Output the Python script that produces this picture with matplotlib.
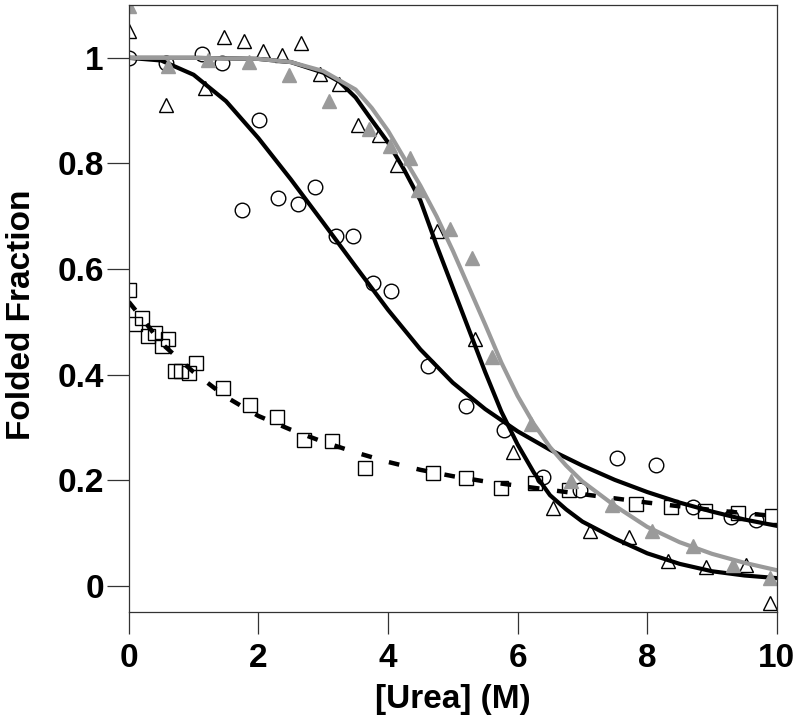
import matplotlib
matplotlib.use("Agg")
import matplotlib.pyplot as plt

plt.rcParams['font.family'] = ['Liberation Sans', 'DejaVu Sans']
plt.rcParams['font.weight'] = 'bold'

# open circles
circ_x = [0, 0.57, 1.13, 1.44, 1.74, 2.01, 2.30, 2.61, 2.875, 3.2, 3.46, 3.77, 4.05,
          4.62, 5.21, 5.79, 6.39, 6.96, 7.54, 8.13, 8.70, 9.29, 9.68]
circ_y = [1.0, 0.99, 1.008, 0.99, 0.712, 0.883, 0.735, 0.723, 0.755, 0.663, 0.663, 0.573, 0.558,
          0.416, 0.340, 0.296, 0.207, 0.182, 0.243, 0.230, 0.149, 0.131, 0.125]

# open triangles
tri_x = [0, 0.58, 1.17, 1.47, 1.78, 2.07, 2.37, 2.65, 2.95, 3.24, 3.54, 3.86, 4.14,
         4.76, 5.34, 5.93, 6.54, 7.12, 7.72, 8.32, 8.91, 9.52, 9.89]
tri_y = [1.05, 0.911, 0.942, 1.039, 1.031, 1.013, 1.006, 1.028, 0.97, 0.951, 0.873, 0.854, 0.798,
         0.672, 0.467, 0.253, 0.147, 0.105, 0.092, 0.048, 0.037, 0.040, -0.033]

# grey filled triangles
gtri_x = [0, 0.61, 1.22, 1.85, 2.47, 3.09, 3.71, 4.03, 4.34, 4.46, 4.95, 5.29, 5.60,
          6.2, 6.82, 7.45, 8.08, 8.70, 9.32, 9.90]
gtri_y = [1.098, 0.985, 0.995, 0.993, 0.968, 0.919, 0.865, 0.834, 0.811, 0.75, 0.676, 0.622, 0.434,
          0.307, 0.199, 0.154, 0.104, 0.076, 0.039, 0.016]

# open squares
sq_x = [0, 0.09, 0.20, 0.30, 0.40, 0.51, 0.61, 0.71, 0.81, 0.93, 1.03, 1.46, 1.87, 2.28,
        2.71, 3.13, 3.64, 4.69, 5.21, 5.74, 6.27, 6.80, 7.82, 8.37, 8.89, 9.40, 9.92]
sq_y = [0.56, 0.497, 0.508, 0.473, 0.48, 0.454, 0.467, 0.407, 0.407, 0.404, 0.423, 0.375, 0.342, 0.32,
        0.276, 0.274, 0.223, 0.214, 0.204, 0.185, 0.195, 0.182, 0.155, 0.15, 0.142, 0.139, 0.133]

# fitted curves
fit_circ_x = [0, 0.5, 1.0, 1.5, 2.0, 2.5, 3.0, 3.5, 4.0, 4.5, 5.0, 5.5, 6.0, 6.5, 7.0,
              7.5, 8.0, 8.5, 9.0, 9.5, 10]
fit_circ_y = [1.0, 0.995, 0.968, 0.918, 0.848, 0.77, 0.688, 0.605, 0.523, 0.448, 0.385, 0.335,
              0.293, 0.258, 0.228, 0.201, 0.178, 0.158, 0.141, 0.126, 0.114]

fit_tri_x = [0, 1.0, 2.0, 2.5, 3.0, 3.25, 3.5, 3.75, 4.0, 4.25, 4.5, 4.75, 5.0, 5.25, 5.5,
             5.75, 6.0, 6.25, 6.5, 6.75, 7.0, 7.5, 8.0, 8.5, 9.0, 9.5, 10]
fit_tri_y = [1.0, 1.0, 0.998, 0.992, 0.972, 0.955, 0.925, 0.882, 0.84, 0.788, 0.73, 0.645, 0.565,
             0.485, 0.405, 0.33, 0.268, 0.215, 0.172, 0.145, 0.122, 0.09, 0.062, 0.042, 0.028,
             0.02, 0.015]

fit_gtri_x = [0, 1.0, 2.0, 2.5, 3.0, 3.5, 3.75, 4.0, 4.25, 4.5, 4.75, 5.0, 5.25, 5.5, 5.75,
              6.0, 6.25, 6.5, 6.75, 7.0, 7.5, 8.0, 8.5, 9.0, 9.5, 10]
fit_gtri_y = [1.0, 1.0, 0.998, 0.992, 0.975, 0.94, 0.905, 0.862, 0.81, 0.758, 0.70, 0.635, 0.565,
              0.495, 0.423, 0.36, 0.307, 0.263, 0.228, 0.198, 0.152, 0.112, 0.083, 0.061, 0.044,
              0.030]

fit_sq_x = [0, 0.25, 0.5, 1.0, 1.5, 2.0, 2.5, 3.0, 3.5, 4.0, 4.5, 5.0, 5.5, 6.0, 6.5, 7.0,
            7.5, 8.0, 8.5, 9.0, 9.5, 10]
fit_sq_y = [0.538, 0.50, 0.46, 0.405, 0.358, 0.322, 0.296, 0.273, 0.253, 0.235, 0.22, 0.208,
            0.198, 0.19, 0.182, 0.174, 0.166, 0.158, 0.151, 0.144, 0.138, 0.132]

grey = '#9a9a9a'

fig = plt.figure(figsize=(8, 7.18), dpi=100)
ax = fig.add_axes([0.161, 0.147, 0.81, 0.846])

mk = dict(linestyle='none', markersize=10.5, markeredgewidth=1.0, markeredgecolor='black',
          markerfacecolor='none')
ax.plot(circ_x, circ_y, marker='o', **mk)
ax.plot(tri_x, tri_y, marker='^', **mk)
ax.plot(sq_x, sq_y, marker='s', **mk)

ax.plot(fit_circ_x, fit_circ_y, color='black', lw=3)
ax.plot(fit_tri_x, fit_tri_y, color='black', lw=3)
dash, = ax.plot(fit_sq_x, fit_sq_y, color='black', lw=3.2)
dash.set_dashes([2.4, 4.0])
ax.plot(fit_gtri_x, fit_gtri_y, color=grey, lw=3)
ax.plot(gtri_x, gtri_y, linestyle='none', marker='^', markersize=10.5, color=grey,
        markeredgecolor=grey)

ax.set_xlim(0, 10)
ax.set_ylim(-0.05, 1.10)
ax.set_xticks([0, 2, 4, 6, 8, 10])
ax.set_yticks([0, 0.2, 0.4, 0.6, 0.8, 1])
ax.set_yticklabels(['0', '0.2', '0.4', '0.6', '0.8', '1'])

for s in ax.spines.values():
    s.set_linewidth(0.9)
    s.set_color('#333333')
ax.tick_params(axis='both', direction='out', length=16, width=0.9, color='#333333',
               labelsize=24)
ax.tick_params(axis='x', pad=6)
ax.tick_params(axis='y', pad=2)

ax.set_xlabel('[Urea] (M)', fontsize=24, fontweight='bold', labelpad=7)
ax.set_ylabel('Folded Fraction', fontsize=24, fontweight='bold')
ax.yaxis.set_label_coords(-0.142, 0.49)

plt.savefig('out.png', dpi=100)
